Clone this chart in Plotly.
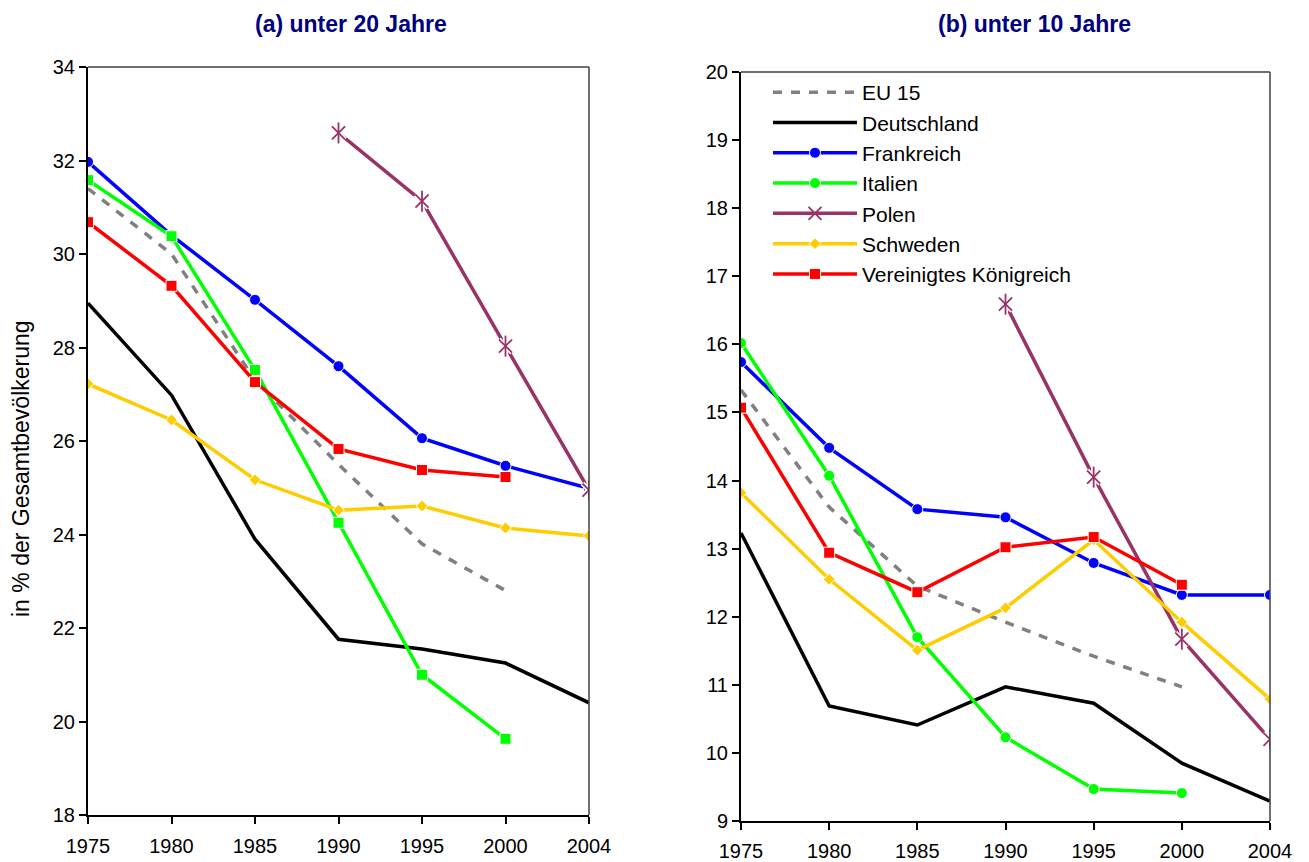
import plotly.graph_objects as go

years = ["1975", "1980", "1985", "1990", "1995", "2000", "2004"]

# (a) unter 20 Jahre
a_eu15 = [31.4, 30.0, 27.3, 25.5, 23.8, 22.8, None]
a_de = [28.95, 26.98, 23.9, 21.76, 21.55, 21.25, 20.4]
a_fr = [31.97, 30.4, 29.02, 27.6, 26.06, 25.47, 24.99]
a_it = [31.58, 30.38, 27.52, 24.25, 21.0, 19.63, None]
a_pl = [None, None, None, 32.59, 31.13, 28.03, 24.95]
a_se = [27.22, 26.45, 25.17, 24.52, 24.61, 24.14, 23.97]
a_uk = [30.68, 29.32, 27.26, 25.83, 25.38, 25.23, None]

# (b) unter 10 Jahre
b_eu15 = [15.33, 13.61, 12.45, 11.92, 11.42, 10.97, None]
b_de = [13.23, 10.69, 10.41, 10.97, 10.73, 9.85, 9.29]
b_fr = [15.74, 14.48, 13.58, 13.46, 12.79, 12.32, 12.32]
b_it = [16.02, 14.07, 11.70, 10.23, 9.47, 9.41, None]
b_pl = [None, None, None, 16.59, 14.05, 11.67, 10.2]
b_se = [13.82, 12.55, 11.51, 12.13, 13.13, 11.92, 10.79]
b_uk = [15.07, 12.94, 12.36, 13.02, 13.17, 12.47, None]

names = ["EU 15", "Deutschland", "Frankreich", "Italien", "Polen", "Schweden", "Vereinigtes Königreich"]
colors = ["#808080", "#000000", "#0000FF", "#00FF00", "#993366", "#FFCC00", "#FF0000"]

FONT = "Liberation Sans, Arial, sans-serif"
fig = go.Figure()

def add(series, name, color, xa, ya, symbol, size, showlegend, dash="solid", mode="lines+markers"):
    is_open = "open" in symbol
    fig.add_trace(go.Scatter(
        x=years, y=series, name=name, mode=mode, xaxis=xa, yaxis=ya,
        showlegend=showlegend, legendgroup=name,
        line=dict(color=color, width=3.5, dash=dash),
        marker=dict(symbol=symbol, size=size, color=color,
                    line=dict(color=color if is_open else "white", width=1.8 if is_open else 1)),
    ))

def add_polen_overlay(series, xa, ya):
    # white halo, then the coloured star (x + vertical stroke)
    for sym, size, col, wid in [("x-thin-open", 13, "white", 5), ("line-ns-open", 15, "white", 5),
                                ("x-thin-open", 13, "#993366", 1.8), ("line-ns-open", 15, "#993366", 1.8)]:
        fig.add_trace(go.Scatter(
            x=years, y=series, mode="markers", xaxis=xa, yaxis=ya, showlegend=False,
            legendgroup="Polen", hoverinfo="skip",
            marker=dict(symbol=sym, size=size, color=col, line=dict(color=col, width=wid)),
        ))

# panel (a)
add(a_eu15, names[0], colors[0], "x", "y", "circle", 1, False, dash="9px,9px", mode="lines")
add(a_de, names[1], colors[1], "x", "y", "circle", 1, False, mode="lines")
add(a_fr, names[2], colors[2], "x", "y", "circle", 11, False)
add(a_it, names[3], colors[3], "x", "y", "square", 11, False)
add(a_pl, names[4], colors[4], "x", "y", "x-thin-open", 13, False)
add_polen_overlay(a_pl, "x", "y")
add(a_se, names[5], colors[5], "x", "y", "diamond", 9, False)
add(a_uk, names[6], colors[6], "x", "y", "square", 11, False)

# panel (b)
add(b_eu15, names[0], colors[0], "x2", "y2", "circle", 1, True, dash="9px,9px", mode="lines")
add(b_de, names[1], colors[1], "x2", "y2", "circle", 1, True, mode="lines")
add(b_fr, names[2], colors[2], "x2", "y2", "circle", 11, True)
add(b_it, names[3], colors[3], "x2", "y2", "circle", 11, True)
add(b_pl, names[4], colors[4], "x2", "y2", "x-thin-open", 13, True)
add_polen_overlay(b_pl, "x2", "y2")
add(b_se, names[5], colors[5], "x2", "y2", "diamond", 9, True)
add(b_uk, names[6], colors[6], "x2", "y2", "square", 11, True)

# page has an 8px body margin: the figure is sized to fit the window
OFF = 8
W, H = 1309 - OFF, 862 - OFF

def px(x):
    return (x - OFF) / W

def py(y):
    return (H - (y - OFF)) / H

xdom1 = [px(88), px(589)]
xdom2 = [px(741), px(1270)]
ydom1 = [py(815), py(67)]
ydom2 = [py(821), py(72)]

axis_common = dict(showline=True, linecolor="black", linewidth=2, ticks="outside",
                   ticklen=7, tickwidth=1.5, tickcolor="black", showgrid=False, zeroline=False,
                   automargin=False,
                   tickfont=dict(family=FONT, size=20, color="black"))

fig.update_layout(
    width=W, height=H, margin=dict(l=0, r=0, t=0, b=0, autoexpand=False),
    paper_bgcolor="white", plot_bgcolor="white",
    font=dict(family=FONT, color="black"),
    xaxis=dict(domain=xdom1, anchor="y", type="category", range=[0, 6],
               ticklabelstandoff=5, **axis_common),
    yaxis=dict(domain=ydom1, anchor="x", range=[18, 34], dtick=2, **axis_common),
    xaxis2=dict(domain=xdom2, anchor="y2", type="category", range=[0, 6],
                ticklabelstandoff=4, **axis_common),
    yaxis2=dict(domain=ydom2, anchor="x2", range=[9, 20], dtick=1, **axis_common),
    legend=dict(x=px(768), y=py(72), xanchor="left", yanchor="top",
                bgcolor="rgba(0,0,0,0)", font=dict(family=FONT, size=21, color="black"),
                itemwidth=84, tracegroupgap=0),
    showlegend=True,
)

# plot frames (top and right borders)
for xr, yr in [("x domain", "y domain"), ("x2 domain", "y2 domain")]:
    fig.add_shape(type="line", xref=xr, yref=yr, x0=0, x1=1, y0=1, y1=1,
                  line=dict(color="#404040", width=1.5))
    fig.add_shape(type="line", xref=xr, yref=yr, x0=1, x1=1, y0=0, y1=1,
                  line=dict(color="#404040", width=1.5))

fig.add_annotation(text="<b>(a) unter 20 Jahre</b>", x=px(351), y=py(24),
                   xref="paper", yref="paper", showarrow=False,
                   xanchor="center", yanchor="middle",
                   font=dict(family=FONT, size=23, color="#000080"))
fig.add_annotation(text="<b>(b) unter 10 Jahre</b>", x=px(1034), y=py(24),
                   xref="paper", yref="paper", showarrow=False,
                   xanchor="center", yanchor="middle",
                   font=dict(family=FONT, size=23, color="#000080"))
fig.add_annotation(text="in % der Gesamtbevölkerung", x=px(21), y=py(469),
                   xref="paper", yref="paper", showarrow=False, textangle=-90,
                   xanchor="center", yanchor="middle",
                   font=dict(family=FONT, size=23, color="black"))

fig.write_html("out.html")
